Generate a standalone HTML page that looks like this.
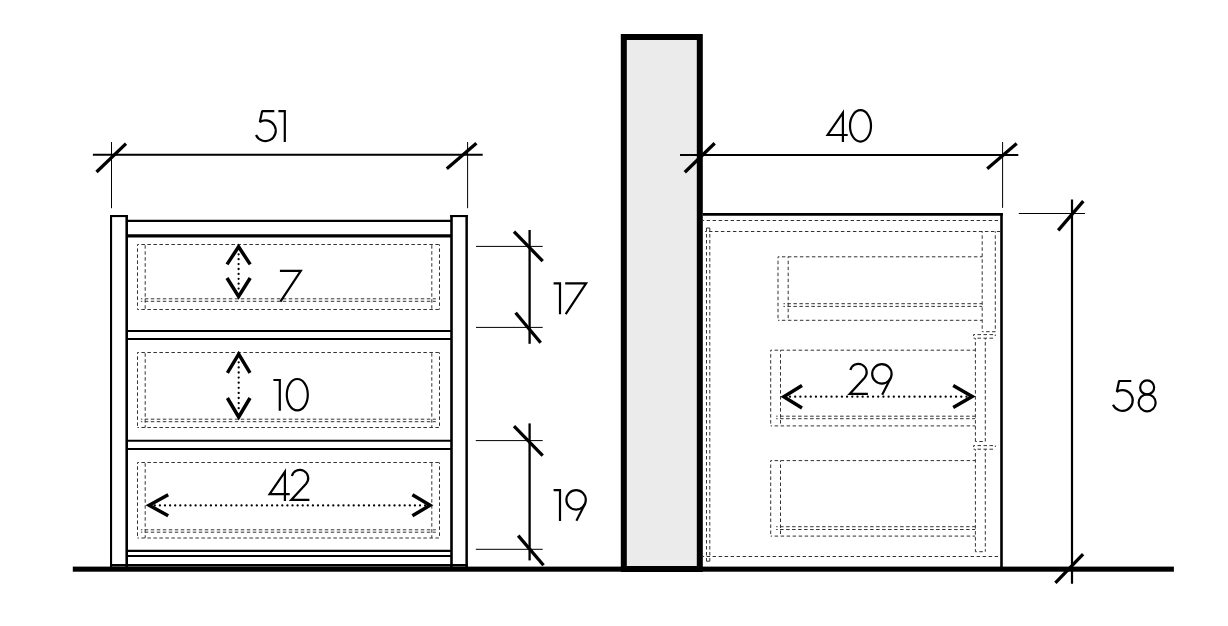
<!DOCTYPE html>
<html><head><meta charset="utf-8"><title>Furniture dimensions</title>
<style>
html,body{margin:0;padding:0;background:#fff;width:1228px;height:626px;overflow:hidden;font-family:"Liberation Sans",sans-serif;}
svg{display:block;}
.d{fill:none;stroke:#333;stroke-width:1;stroke-dasharray:3.5 2.5;stroke-dashoffset:2.1;}
</style></head>
<body>
<svg width="1228" height="626" viewBox="0 0 1228 626">
<rect width="1228" height="626" fill="#fff"/>
<rect x="623.8" y="37" width="76" height="532" fill="#ebebeb" stroke="#000" stroke-width="6"/>
<line x1="111.05" y1="215" x2="111.05" y2="567" stroke="#000" stroke-width="2.1" />
<line x1="126.7" y1="215" x2="126.7" y2="567" stroke="#000" stroke-width="2.6" />
<line x1="110" y1="216.05" x2="128" y2="216.05" stroke="#000" stroke-width="2.1" />
<line x1="451.5" y1="215" x2="451.5" y2="567" stroke="#000" stroke-width="2.6" />
<line x1="466.65" y1="215" x2="466.65" y2="567" stroke="#000" stroke-width="2.5" />
<line x1="450.2" y1="216.05" x2="467.9" y2="216.05" stroke="#000" stroke-width="2.1" />
<line x1="127" y1="220.85" x2="451" y2="220.85" stroke="#000" stroke-width="2.1" />
<line x1="127" y1="235.8" x2="451" y2="235.8" stroke="#000" stroke-width="3.2" />
<line x1="127" y1="331.05" x2="451" y2="331.05" stroke="#000" stroke-width="2.1" />
<line x1="127" y1="339.05" x2="451" y2="339.05" stroke="#000" stroke-width="2.1" />
<line x1="127" y1="440.8" x2="451" y2="440.8" stroke="#000" stroke-width="2.1" />
<line x1="127" y1="449" x2="451" y2="449" stroke="#000" stroke-width="2.1" />
<line x1="127" y1="550.8" x2="451" y2="550.8" stroke="#000" stroke-width="2.2" />
<line x1="127" y1="556" x2="451" y2="556" stroke="#000" stroke-width="2.1" />
<line x1="110" y1="565.3" x2="467.9" y2="565.3" stroke="#000" stroke-width="2.5" />
<line x1="137.5" y1="244.5" x2="439.5" y2="244.5" class="d"/>
<line x1="137.5" y1="309.5" x2="439.5" y2="309.5" class="d"/>
<line x1="137.5" y1="244.5" x2="137.5" y2="309.5" class="d"/>
<line x1="439.5" y1="244.5" x2="439.5" y2="309.5" class="d"/>
<line x1="145.2" y1="244.5" x2="145.2" y2="309.5" class="d" style="stroke-dashoffset:-0.7"/>
<line x1="431.8" y1="244.5" x2="431.8" y2="309.5" class="d" style="stroke-dashoffset:-0.7"/>
<line x1="140.9" y1="298.8" x2="435.8" y2="298.8" class="d"/>
<line x1="140.9" y1="301.3" x2="435.8" y2="301.3" class="d"/>
<line x1="137.5" y1="352.5" x2="439.5" y2="352.5" class="d"/>
<line x1="137.5" y1="427.5" x2="439.5" y2="427.5" class="d"/>
<line x1="137.5" y1="352.5" x2="137.5" y2="427.5" class="d"/>
<line x1="439.5" y1="352.5" x2="439.5" y2="427.5" class="d"/>
<line x1="145.2" y1="352.5" x2="145.2" y2="427.5" class="d" style="stroke-dashoffset:-0.7"/>
<line x1="431.8" y1="352.5" x2="431.8" y2="427.5" class="d" style="stroke-dashoffset:-0.7"/>
<line x1="140.9" y1="419.2" x2="435.8" y2="419.2" class="d"/>
<line x1="140.9" y1="421.7" x2="435.8" y2="421.7" class="d"/>
<line x1="137.5" y1="462.5" x2="439.5" y2="462.5" class="d"/>
<line x1="137.5" y1="538" x2="439.5" y2="538" class="d"/>
<line x1="137.5" y1="462.5" x2="137.5" y2="538" class="d"/>
<line x1="439.5" y1="462.5" x2="439.5" y2="538" class="d"/>
<line x1="145.2" y1="462.5" x2="145.2" y2="538" class="d" style="stroke-dashoffset:-0.7"/>
<line x1="431.8" y1="462.5" x2="431.8" y2="538" class="d" style="stroke-dashoffset:-0.7"/>
<line x1="140.9" y1="529.8" x2="435.8" y2="529.8" class="d"/>
<line x1="140.9" y1="532.2" x2="435.8" y2="532.2" class="d"/>
<line x1="702.7" y1="214.4" x2="1002.8" y2="214.4" stroke="#000" stroke-width="2.6" />
<line x1="1001.5" y1="213.1" x2="1001.5" y2="567" stroke="#000" stroke-width="2.6" />
<line x1="702.7" y1="220.5" x2="1000.2" y2="220.5" class="d"/>
<line x1="705" y1="231.5" x2="1000.2" y2="231.5" class="d"/>
<line x1="706.5" y1="228" x2="706.5" y2="561.2" class="d" style="stroke-dashoffset:0"/>
<line x1="709.8" y1="228" x2="709.8" y2="561.2" class="d" style="stroke-dashoffset:0"/>
<line x1="706.5" y1="228" x2="709.8" y2="228" class="d" style="stroke-dashoffset:0"/>
<line x1="706.5" y1="561.2" x2="709.8" y2="561.2" class="d" style="stroke-dashoffset:0"/>
<line x1="702.7" y1="556.5" x2="1000.2" y2="556.5" class="d"/>
<line x1="982.2" y1="231.4" x2="982.2" y2="331.7" class="d"/>
<line x1="995.3" y1="231.4" x2="995.3" y2="331.7" class="d"/>
<line x1="982.2" y1="331.7" x2="995.3" y2="331.7" class="d"/>
<line x1="973.6" y1="334.6" x2="995.3" y2="334.6" class="d"/>
<line x1="973.6" y1="338.2" x2="995.3" y2="338.2" class="d"/>
<line x1="973.6" y1="334.6" x2="973.6" y2="338.2" class="d"/>
<line x1="995.3" y1="334.6" x2="995.3" y2="338.2" class="d"/>
<line x1="975.4" y1="338.2" x2="975.4" y2="441.5" class="d"/>
<line x1="985.3" y1="338.2" x2="985.3" y2="441.5" class="d"/>
<line x1="975.4" y1="441.5" x2="985.3" y2="441.5" class="d"/>
<line x1="973.6" y1="445.6" x2="995.3" y2="445.6" class="d"/>
<line x1="973.6" y1="449.2" x2="995.3" y2="449.2" class="d"/>
<line x1="973.6" y1="445.6" x2="973.6" y2="449.2" class="d"/>
<line x1="995.3" y1="445.6" x2="995.3" y2="449.2" class="d"/>
<line x1="975.4" y1="449.2" x2="975.4" y2="551.7" class="d"/>
<line x1="985.3" y1="449.2" x2="985.3" y2="551.7" class="d"/>
<line x1="975.4" y1="551.7" x2="985.3" y2="551.7" class="d"/>
<line x1="778" y1="256.8" x2="982.2" y2="256.8" class="d"/>
<line x1="778" y1="256.8" x2="778" y2="320.3" class="d"/>
<line x1="778" y1="320.3" x2="982.2" y2="320.3" class="d"/>
<line x1="788.2" y1="256.8" x2="788.2" y2="320.3" class="d"/>
<line x1="783.5" y1="303.7" x2="982.2" y2="303.7" class="d"/>
<line x1="783.5" y1="306.4" x2="982.2" y2="306.4" class="d"/>
<line x1="770.7" y1="350.2" x2="975.2" y2="350.2" class="d"/>
<line x1="770.7" y1="350.2" x2="770.7" y2="425.9" class="d"/>
<line x1="770.7" y1="425.9" x2="975.2" y2="425.9" class="d"/>
<line x1="780.5" y1="350.2" x2="780.5" y2="425.9" class="d"/>
<line x1="776.2" y1="416.2" x2="975.2" y2="416.2" class="d"/>
<line x1="776.2" y1="418.7" x2="975.2" y2="418.7" class="d"/>
<line x1="770.7" y1="460.6" x2="975.2" y2="460.6" class="d"/>
<line x1="770.7" y1="460.6" x2="770.7" y2="536.1" class="d"/>
<line x1="770.7" y1="536.1" x2="975.2" y2="536.1" class="d"/>
<line x1="780.5" y1="460.6" x2="780.5" y2="536.1" class="d"/>
<line x1="776.2" y1="526.7" x2="975.2" y2="526.7" class="d"/>
<line x1="776.2" y1="529.5" x2="975.2" y2="529.5" class="d"/>
<rect x="72.8" y="566.6" width="1101.1" height="5.1" fill="#000"/>
<line x1="92.9" y1="154.8" x2="482.7" y2="154.8" stroke="#000" stroke-width="2" />
<line x1="111.5" y1="142" x2="111.5" y2="208.2" stroke="#000" stroke-width="1" />
<line x1="467.6" y1="142" x2="467.6" y2="208.2" stroke="#000" stroke-width="1" />
<line x1="680" y1="154.9" x2="1018.3" y2="154.9" stroke="#000" stroke-width="2" />
<line x1="1002.6" y1="142" x2="1002.6" y2="207.9" stroke="#000" stroke-width="1" />
<line x1="529.6" y1="230" x2="529.6" y2="343.8" stroke="#000" stroke-width="2.3" />
<line x1="476" y1="246.4" x2="542.7" y2="246.4" stroke="#000" stroke-width="1" />
<line x1="476" y1="327.4" x2="542.7" y2="327.4" stroke="#000" stroke-width="1" />
<line x1="529.6" y1="423.4" x2="529.6" y2="560.4" stroke="#000" stroke-width="2.3" />
<line x1="475.8" y1="440.6" x2="542.7" y2="440.6" stroke="#000" stroke-width="1" />
<line x1="475.8" y1="549.3" x2="542.7" y2="549.3" stroke="#000" stroke-width="1" />
<line x1="1072" y1="199.5" x2="1072" y2="583.7" stroke="#000" stroke-width="2.2" />
<line x1="1018.8" y1="213.5" x2="1085" y2="213.5" stroke="#000" stroke-width="1" />
<line x1="96.5" y1="172" x2="126" y2="143.6" stroke="#000" stroke-width="3.3" />
<line x1="446.8" y1="168.7" x2="476.4" y2="143.2" stroke="#000" stroke-width="3.3" />
<line x1="684.8" y1="172.3" x2="714.7" y2="143.2" stroke="#000" stroke-width="3.3" />
<line x1="987.2" y1="168.7" x2="1016.7" y2="143.6" stroke="#000" stroke-width="3.3" />
<line x1="514" y1="231.6" x2="542.7" y2="261.1" stroke="#000" stroke-width="3.3" />
<line x1="515.6" y1="312.8" x2="540.7" y2="342.7" stroke="#000" stroke-width="3.3" />
<line x1="514" y1="426.2" x2="542.7" y2="455.7" stroke="#000" stroke-width="3.3" />
<line x1="518.2" y1="535.6" x2="543.5" y2="565.2" stroke="#000" stroke-width="3.3" />
<line x1="1058.2" y1="230.3" x2="1083.3" y2="201.2" stroke="#000" stroke-width="3.3" />
<line x1="1055.4" y1="582.9" x2="1083.1" y2="554.1" stroke="#000" stroke-width="3.3" />
<polyline points="227,264.4 238.6,246.8 250.2,264.4" fill="none" stroke="#000" stroke-width="3.5" stroke-linejoin="miter" stroke-miterlimit="10"/>
<polyline points="227,278 238.6,296.4 250.2,278" fill="none" stroke="#000" stroke-width="3.5" stroke-linejoin="miter" stroke-miterlimit="10"/>
<line x1="238.6" y1="254.3" x2="238.6" y2="290" stroke="#000" stroke-width="2.3" stroke-linecap="round" stroke-dasharray="0 4.9"/>
<polyline points="227.4,372.8 238.7,354.2 250,372.8" fill="none" stroke="#000" stroke-width="3.5" stroke-linejoin="miter" stroke-miterlimit="10"/>
<polyline points="227.4,398 238.7,417 250,398" fill="none" stroke="#000" stroke-width="3.5" stroke-linejoin="miter" stroke-miterlimit="10"/>
<line x1="238.7" y1="362.3" x2="238.7" y2="410" stroke="#000" stroke-width="2.3" stroke-linecap="round" stroke-dasharray="0 5.1"/>
<polyline points="168.2,494.8 149.2,505.3 168.2,515.8" fill="none" stroke="#000" stroke-width="3.5" stroke-linejoin="miter" stroke-miterlimit="10"/>
<polyline points="412.4,494.8 430,505.3 412.4,515.8" fill="none" stroke="#000" stroke-width="3.5" stroke-linejoin="miter" stroke-miterlimit="10"/>
<line x1="154.8" y1="505.4" x2="428" y2="505.4" stroke="#000" stroke-width="2.3" stroke-linecap="round" stroke-dasharray="0 5.1"/>
<polyline points="802,385.4 783.8,396.8 802,408" fill="none" stroke="#000" stroke-width="3.5" stroke-linejoin="miter" stroke-miterlimit="10"/>
<polyline points="953.2,385.6 972.2,396.6 953.2,407.6" fill="none" stroke="#000" stroke-width="3.5" stroke-linejoin="miter" stroke-miterlimit="10"/>
<line x1="790" y1="396.7" x2="968" y2="396.7" stroke="#000" stroke-width="2.3" stroke-linecap="round" stroke-dasharray="0 5.19"/>
<g fill="none" stroke="#000" stroke-width="2.2">
<path transform="translate(255,110.2)" d="M19.3,1H7.1L4.82,11.78A10.35,10.35 0 1 1 1.0,24.83" stroke-linejoin="bevel"/>
<path transform="translate(278.4,110.2)" d="M0,1H7.4M6.4,0V31.8"/>
<path transform="translate(825.5,110.1)" d="M17.4,31.8V2.6L2.1,24.9H22.2" stroke-linejoin="miter" stroke-miterlimit="10"/>
<ellipse transform="translate(849,110.2)" cx="11.5" cy="15.7" rx="10.5" ry="15.7"/>
<path transform="translate(279.9,269.8)" d="M0,1H20.9L0.5,31.8" stroke-linejoin="miter" stroke-miterlimit="10"/>
<path transform="translate(273.4,379)" d="M0,1H7.4M6.4,0V31.8"/>
<ellipse transform="translate(285.8,379)" cx="11.5" cy="15.7" rx="10.5" ry="15.7"/>
<path transform="translate(267.5,469.2)" d="M17.4,31.8V2.6L2.1,24.9H22.2" stroke-linejoin="miter" stroke-miterlimit="10"/>
<path transform="translate(290,469.2)" d="M1.88,6.85A8.3,8.3 0 1 1 16.15,14.46L1.2,30.7H19.4" stroke-linejoin="miter"/>
<path transform="translate(553.6,282.4)" d="M0,1H7.4M6.4,0V31.8"/>
<path transform="translate(565.2,282.4)" d="M0,1H20.9L0.5,31.8" stroke-linejoin="miter" stroke-miterlimit="10"/>
<path transform="translate(553.6,489.2)" d="M0,1H7.4M6.4,0V31.8"/>
<g transform="translate(565.4,489.2)"><circle cx="10.7" cy="10.7" r="9.7"/><path d="M19.35,15.09L11,31.6"/></g>
<path transform="translate(848.5,363.2)" d="M1.88,6.85A8.3,8.3 0 1 1 16.15,14.46L1.2,30.7H19.4" stroke-linejoin="miter"/>
<g transform="translate(871.2,363.2)"><circle cx="10.7" cy="10.7" r="9.7"/><path d="M19.35,15.09L11,31.6"/></g>
<path transform="translate(1112,380)" d="M19.3,1H7.1L4.82,11.78A10.35,10.35 0 1 1 1.0,24.83" stroke-linejoin="bevel"/>
<g transform="translate(1137.7,380)"><circle cx="9.45" cy="7.4" r="7"/><circle cx="9.45" cy="22.8" r="8.5"/></g>
</g>
</svg>
</body></html>
